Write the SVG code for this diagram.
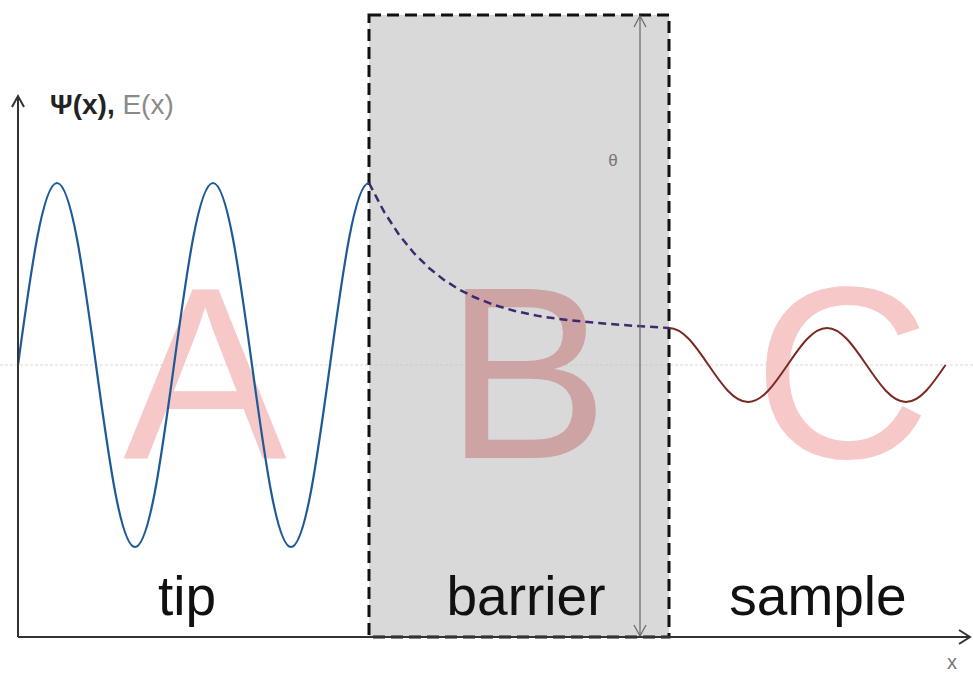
<svg xmlns="http://www.w3.org/2000/svg" width="973" height="673" viewBox="0 0 973 673">
<style>
.big{font-family:"Liberation Sans",Arial,sans-serif;font-size:245px;text-anchor:middle}
.lbl{font-family:"Liberation Sans",Arial,sans-serif;font-size:55px;fill:#111;text-anchor:middle}
.axis{stroke:#333;stroke-width:2;fill:none}
.thin{stroke:#666;stroke-width:1.2;fill:none}
</style>
<rect width="973" height="673" fill="#fff"/>
<g id="barrier-region">
<rect x="369" y="15" width="300" height="622" fill="#d9d9d9"/>
</g>
<line x1="0" y1="365" x2="973" y2="365" stroke="#c8c0b8" stroke-width="1" stroke-dasharray="3 2" opacity="0.6"/>
<g id="letters">
<text id="letter-A" class="big" x="205" y="458" fill="#f6c8c8">A</text>
<text id="letter-B" class="big" x="527" y="458" fill="#cda3a3">B</text>
<text id="letter-C" class="big" x="842" y="458" fill="#f6c8c8">C</text>
</g>
<g id="barrier-border">
<rect x="369" y="15" width="300" height="622" fill="none" stroke="#111" stroke-width="3" stroke-dasharray="12 6"/>
</g>
<g id="connectors">
<path id="tip-wave" d="M18,365 C31,269.7 42.96,183 57,183 C71.04,183 83,269.7 96,365 C109,460.3 120.96,547 135,547 C149.04,547 161,460.3 174,365 C187,269.7 198.96,183 213,183 C227.04,183 239,269.7 252,365 C265,460.3 276.96,547 291,547 C305.04,547 317,460.3 330,365 C343,269.7 354.96,183 369,183" fill="none" stroke="#1d5a98" stroke-width="2.2"/>
<path id="barrier-decay" d="M369,183 L384,211.7 L399,234.7 L414,253.2 L429,268 L444,279.9 L459,289.4 L474,297 L494,304.9 L514,310.8 L539,316.1 L569,320.3 L599,323.1 L634,325.8 L669,328" fill="none" stroke="#3d2a6e" stroke-width="2.5" stroke-dasharray="8 5"/>
<path id="sample-wave" d="M669,328 C683.22,328 695.33,345.63 708.5,365 C721.67,384.37 733.78,402 748,402 C762.22,402 774.33,384.37 787.5,365 C800.67,345.63 812.78,328 827,328 C841.22,328 853.33,345.63 866.5,365 C879.67,384.37 891.78,402 906,402 C920.22,402 932.33,384.37 945.5,365" fill="none" stroke="#7a2a22" stroke-width="2"/>
<g id="theta-arrow">
<line class="thin" x1="640" y1="16" x2="640" y2="636"/>
<polyline class="thin" points="634,27 640,16 646,27"/>
<polyline class="thin" points="634,625 640,636 646,625"/>
</g>
<g id="axes">
<line class="axis" x1="18" y1="637" x2="18" y2="96"/>
<polyline class="axis" points="12,107 18,96 24,107"/>
<line class="axis" x1="18" y1="637" x2="970" y2="637"/>
<polyline class="axis" points="959,630 970,637 959,644"/>
</g>
</g>
<g id="labels">
<text x="50" y="114" font-family="'Liberation Sans',Arial,sans-serif" font-size="28"><tspan font-weight="bold" fill="#222">Ψ(x),</tspan><tspan fill="#8a8a8a"> E(x)</tspan></text>
<text x="613" y="166" font-family="'Liberation Sans',Arial,sans-serif" font-size="17" fill="#777" text-anchor="middle">θ</text>
<text x="952" y="669" font-family="'Liberation Sans',Arial,sans-serif" font-size="20" fill="#777" text-anchor="middle">x</text>
<text id="label-tip" class="lbl" x="187" y="615">tip</text>
<text id="label-barrier" class="lbl" x="526" y="615">barrier</text>
<text id="label-sample" class="lbl" x="818" y="615">sample</text>
</g>
</svg>
